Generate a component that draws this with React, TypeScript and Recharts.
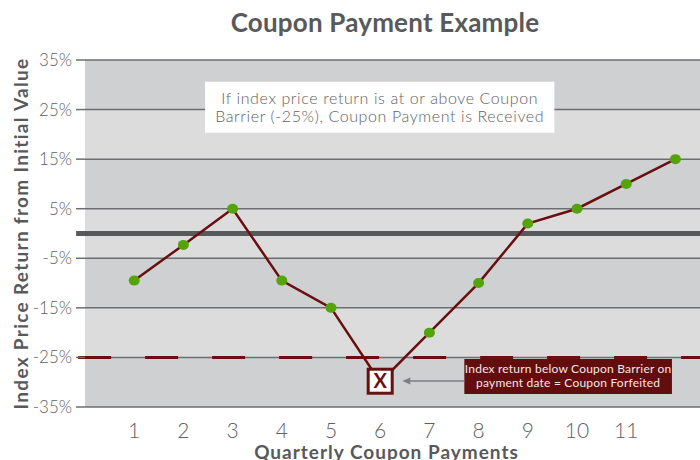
import React from "react";
import {
  ComposedChart,
  Line,
  XAxis,
  YAxis,
  CartesianGrid,
  ReferenceLine,
  ReferenceArea,
} from "recharts";

const quarters = [1, 2, 3, 4, 5, 6, 7, 8, 9, 10, 11, 12];
const returns = [-9.5, -2.3, 5, -9.5, -15, -30, -20, -10, 2, 5, 10, 15];
const xTicks = [1, 2, 3, 4, 5, 6, 7, 8, 9, 10, 11];
const yTicks = [-35, -25, -15, -5, 5, 15, 25, 35];
const barrier = -25;
const forfeitedIndex = 5;

const noteLines = [
  "If index price return is at or above Coupon",
  "Barrier (-25%), Coupon Payment is Received",
];
const forfeitLines = ["Index return below Coupon Barrier on", "payment date = Coupon Forfeited"];

const data = quarters.map((q, i) => ({ q, value: returns[i] }));

const FONT = "Lato, 'Open Sans', sans-serif";
const GRAY = "#58595b";
const MAROON = "#6a0f10";

// green dots, except the forfeited payment which gets the boxed X
const renderDot = (props: any) => {
  const { cx, cy, index } = props;
  if (index === forfeitedIndex) {
    return (
      <g key={`dot-${index}`}>
        <rect x={cx - 12} y={cy - 13} width={24} height={24} fill="#fff" stroke={MAROON} strokeWidth={3} />
        <text
          x={cx}
          y={cy + 6}
          textAnchor="middle"
          fontFamily={FONT}
          fontWeight={700}
          fontSize={20}
          fill={MAROON}
        >
          X
        </text>
      </g>
    );
  }
  return <ellipse key={`dot-${index}`} cx={cx} cy={cy} rx={5.5} ry={5} fill="#55a30b" />;
};

const NoteLabel = (props: any) => {
  const { x, y, width, height } = props.viewBox;
  const cx = x + width / 2;
  return (
    <g>
      {noteLines.map((t, i) => (
        <text
          key={t}
          x={cx}
          y={y + height / 2 - 3 + i * 18}
          textAnchor="middle"
          fontFamily={FONT}
          fontWeight={300}
          fontSize={16}
          letterSpacing={0.6}
          fill="#5f6062"
        >
          {t}
        </text>
      ))}
    </g>
  );
};

const ForfeitLabel = (props: any) => {
  const { x, y, width, height } = props.viewBox;
  const cx = x + width / 2;
  const ay = y + height * 0.63;
  return (
    <g>
      {forfeitLines.map((t, i) => (
        <text
          key={t}
          x={cx}
          y={y + height / 2 - 4 + i * 14}
          textAnchor="middle"
          fontFamily={FONT}
          fontSize={12}
          letterSpacing={0.2}
          fill="#f2e6e6"
        >
          {t}
        </text>
      ))}
      <line x1={x} y1={ay} x2={x - 56} y2={ay} stroke="#7d7e80" strokeWidth={1.5} />
      <polygon points={`${x - 62},${ay} ${x - 54},${ay - 3.5} ${x - 54},${ay + 3.5}`} fill="#7d7e80" />
    </g>
  );
};

export default function App() {
  return (
    <div style={{ position: "absolute", left: 0, top: 0, width: 700, height: 460, background: "#fff" }}>
      <div
        style={{
          position: "absolute",
          left: 0,
          top: 7,
          width: 700,
          paddingLeft: 70,
          boxSizing: "border-box",
          textAlign: "center",
          fontFamily: FONT,
          fontWeight: 700,
          fontSize: 26,
          letterSpacing: 0.2,
          color: GRAY,
          lineHeight: "30px",
        }}
      >
        Coupon Payment Example
      </div>
      <ComposedChart width={700} height={460} data={data} margin={{ top: 60, right: 0, bottom: 0, left: 0 }}>
        <CartesianGrid
          vertical={false}
          stroke="#6d6e71"
          strokeWidth={1.5}
          horizontalFill={["#cfd0d2", "#dcdcdd"]}
          fillOpacity={1}
        />
        <XAxis
          dataKey="q"
          type="number"
          domain={[0, 12.5]}
          ticks={xTicks}
          height={53}
          axisLine={false}
          tickLine={false}
          tickSize={6}
          tickMargin={10}
          tick={{ fontFamily: FONT, fontWeight: 300, fontSize: 21, fill: "#5f6062" }}
          label={(p: any) => {
            const { x, y, width } = p.viewBox;
            return (
              <text
                x={x + width / 2 - 6}
                y={y + 52}
                textAnchor="middle"
                fontFamily={FONT}
                fontWeight={700}
                fontSize={19}
                letterSpacing={1}
                fill={GRAY}
              >
                Quarterly Coupon Payments
              </text>
            );
          }}
        />
        <YAxis
          type="number"
          domain={[-35, 35]}
          ticks={yTicks}
          width={85}
          axisLine={false}
          tickLine={{ stroke: "#6d6e71", strokeWidth: 1.5 }}
          tickSize={9}
          tickMargin={4}
          tickFormatter={(v: number) => `${v}%`}
          tick={{ fontFamily: FONT, fontWeight: 300, fontSize: 17, fill: "#5f6062" }}
          label={(p: any) => {
            const { x, y, height } = p.viewBox;
            const cx = x + 20;
            const cy = y + height / 2;
            return (
              <text
                x={cx}
                y={cy}
                transform={`rotate(-90 ${cx} ${cy})`}
                textAnchor="middle"
                dominantBaseline="central"
                fontFamily={FONT}
                fontWeight={700}
                fontSize={19}
                letterSpacing={1.3}
                fill={GRAY}
              >
                Index Price Return from Initial Value
              </text>
            );
          }}
        />
        <ReferenceArea
          x1={2.44}
          x2={9.54}
          y1={20.3}
          y2={30.6}
          fill="#fff"
          fillOpacity={1}
          stroke="none"
          label={NoteLabel}
        />
        <ReferenceArea
          x1={7.71}
          x2={11.93}
          y1={-32.4}
          y2={-25.3}
          fill="#640d0e"
          fillOpacity={1}
          stroke="none"
          label={ForfeitLabel}
        />
        <ReferenceLine
          segment={[{ x: -0.18, y: 0 }, { x: 12.5, y: 0 }]}
          ifOverflow="visible"
          stroke="#58595b"
          strokeWidth={5}
        />
        <ReferenceLine
          segment={[{ x: -0.14, y: barrier }, { x: 12.5, y: barrier }]}
          ifOverflow="visible"
          stroke={MAROON}
          strokeWidth={3}
          strokeDasharray="33 34"
        />
        <Line
          dataKey="value"
          type="linear"
          stroke={MAROON}
          strokeWidth={2.5}
          dot={renderDot}
          activeDot={false}
          isAnimationActive={false}
        />
      </ComposedChart>
    </div>
  );
}
